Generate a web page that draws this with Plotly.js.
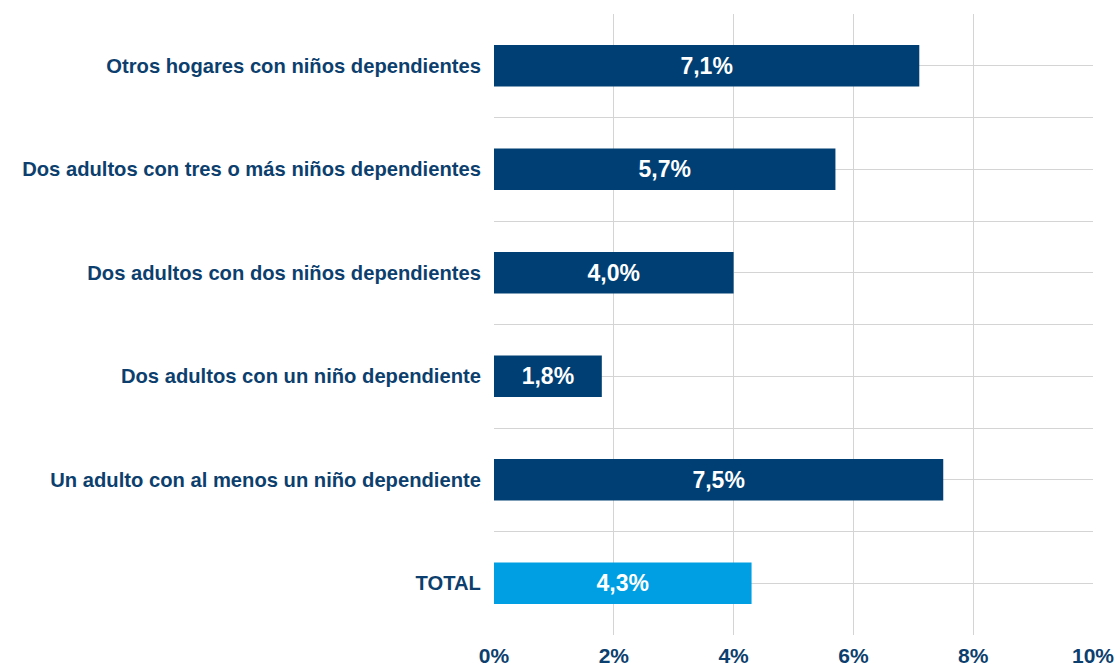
<!DOCTYPE html>
<html>
<head>
<meta charset="utf-8">
<script src="https://cdn.plot.ly/plotly-3.0.1.min.js"></script>
<style>html,body{margin:0;padding:0;background:#fff;}#chart{width:1119px;height:663px;}</style>
</head>
<body>
<div id="chart"></div>
<script>
const categories = [
  "Otros hogares con niños dependientes",
  "Dos adultos con tres o más niños dependientes",
  "Dos adultos con dos niños dependientes",
  "Dos adultos con un niño dependiente",
  "Un adulto con al menos un niño dependiente",
  "TOTAL"
];
const values = [7.1, 5.7, 4.0, 1.8, 7.5, 4.3];
const xTickValues = [0, 2, 4, 6, 8, 10];
const xTickLabels = ["0%", "2%", "4%", "6%", "8%", "10%"];

const positions = categories.map((c, i) => i);
const colors = categories.map(c => c === "TOTAL" ? "#009fe3" : "#003f73");

// y ticks: category centers get labels; boundaries get gridlines only
const yTickVals = [];
const yTickText = [];
for (let i = 0; i < categories.length; i++) {
  yTickVals.push(i - 0.5); yTickText.push("");
  yTickVals.push(i); yTickText.push(categories[i]);
}
yTickVals.push(categories.length - 0.5); yTickText.push("");

const trace = {
  type: "bar",
  orientation: "h",
  x: values,
  y: positions,
  width: 0.4,
  marker: { color: colors },
  texttemplate: "%{x:.1f}%",
  textposition: "inside",
  insidetextanchor: "middle",
  textangle: 0,
  textfont: { family: "Liberation Sans, Arial, sans-serif", size: 23, color: "#ffffff", weight: "bold" },
  hoverinfo: "none"
};

const layout = {
  width: 1119,
  height: 663,
  margin: { l: 494, r: 26, t: 14, b: 28 },
  paper_bgcolor: "#ffffff",
  plot_bgcolor: "#ffffff",
  separators: ",.",
  showlegend: false,
  font: { family: "Liberation Sans, Arial, sans-serif", color: "#0d3f6e" },
  xaxis: {
    range: [0, 10],
    tickvals: xTickValues,
    ticktext: xTickLabels,
    showgrid: true,
    gridcolor: "#d4d4d4",
    gridwidth: 1,
    zeroline: false,
    showline: false,
    ticks: "outside",
    ticklen: 2,
    tickcolor: "rgba(0,0,0,0)",
    tickfont: { size: 21, color: "#0d3f6e", weight: "bold" },
    fixedrange: true
  },
  yaxis: {
    range: [categories.length - 0.5, -0.5],
    tickvals: yTickVals,
    ticktext: yTickText,
    showgrid: true,
    gridcolor: "#d4d4d4",
    gridwidth: 1,
    zeroline: false,
    showline: false,
    ticks: "outside",
    ticklen: 8,
    tickcolor: "rgba(0,0,0,0)",
    tickfont: { size: 20.2, color: "#0d3f6e", weight: "bold" },
    fixedrange: true
  }
};

Plotly.newPlot("chart", [trace], layout, { displayModeBar: false, staticPlot: true });
</script>
</body>
</html>
